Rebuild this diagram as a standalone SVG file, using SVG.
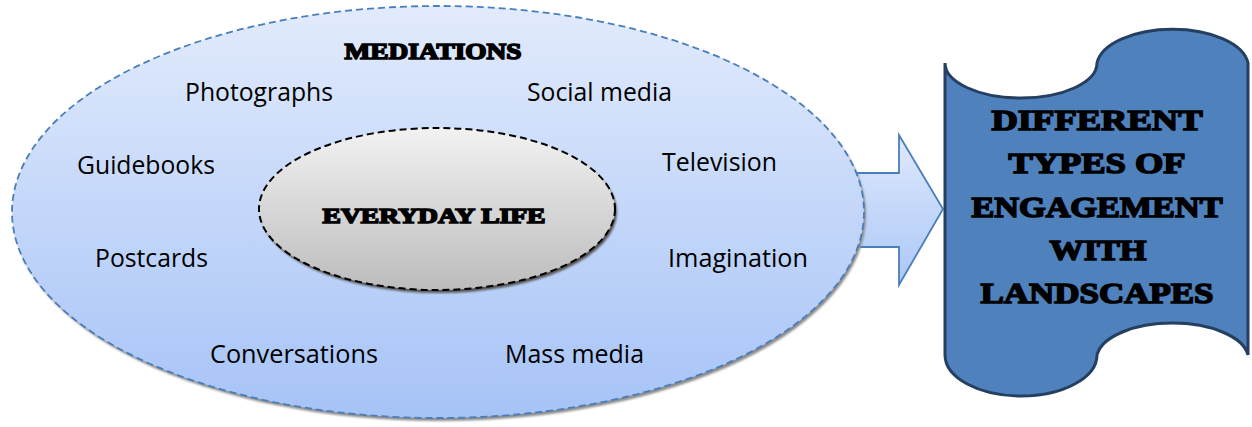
<svg xmlns="http://www.w3.org/2000/svg" width="1252" height="427" viewBox="0 0 1252 427">
<defs>
<linearGradient id="gOuter" x1="0" y1="0" x2="0" y2="1">
<stop offset="0" stop-color="#e2ebfc"/>
<stop offset="1" stop-color="#a6c3f7"/>
</linearGradient>
<linearGradient id="gInner" x1="0" y1="0" x2="0" y2="1">
<stop offset="0" stop-color="#f2f2f2"/>
<stop offset="1" stop-color="#bcbcbc"/>
</linearGradient>
<linearGradient id="gArrow" x1="0" y1="0" x2="0" y2="1">
<stop offset="0" stop-color="#dfe9fc"/>
<stop offset="1" stop-color="#abc7f7"/>
</linearGradient>
<filter id="blur" x="-5%" y="-5%" width="110%" height="110%">
<feGaussianBlur stdDeviation="1.2"/>
</filter>
</defs>
<style>
.lbl{font-family:"Open Sans","Noto Sans",sans-serif;font-size:25px;fill:#000}
.hd{font-family:"Liberation Serif","DejaVu Serif",serif;font-weight:bold;fill:#000;stroke:#000;stroke-width:1.6px;text-anchor:middle}
</style>
<g id="connectors">
<path d="M820 173 L899 173 L899 135 L943 209 L899 285 L899 247 L820 247 Z" fill="url(#gArrow)" stroke="#4a7ebb" stroke-width="1.8"/>
</g>
<g id="mediations">
<ellipse cx="440" cy="215" rx="426" ry="206" fill="#8c8c8c" filter="url(#blur)"/>
<ellipse cx="438" cy="212" rx="426" ry="206" fill="url(#gOuter)" stroke="#4a7ebb" stroke-width="1.8" stroke-dasharray="7,4"/>
<text class="hd" x="433" y="59" font-size="23" textLength="177" lengthAdjust="spacingAndGlyphs">MEDIATIONS</text>
<text class="lbl" x="185" y="101" textLength="148" lengthAdjust="spacingAndGlyphs">Photographs</text>
<text class="lbl" x="527" y="101" textLength="145" lengthAdjust="spacingAndGlyphs">Social media</text>
<text class="lbl" x="77" y="174" textLength="138" lengthAdjust="spacingAndGlyphs">Guidebooks</text>
<text class="lbl" x="662" y="171" textLength="115" lengthAdjust="spacingAndGlyphs">Television</text>
<text class="lbl" x="95" y="267" textLength="113" lengthAdjust="spacingAndGlyphs">Postcards</text>
<text class="lbl" x="668" y="267" textLength="140" lengthAdjust="spacingAndGlyphs">Imagination</text>
<text class="lbl" x="210" y="363" textLength="168" lengthAdjust="spacingAndGlyphs">Conversations</text>
<text class="lbl" x="505" y="363" textLength="139" lengthAdjust="spacingAndGlyphs">Mass media</text>
</g>
<g id="everyday-life">
<ellipse cx="439" cy="212" rx="178" ry="81" fill="#555" filter="url(#blur)"/>
<ellipse cx="437" cy="209" rx="178" ry="81" fill="url(#gInner)" stroke="#000" stroke-width="2" stroke-dasharray="7,4"/>
<text class="hd" x="434" y="223" font-size="22" textLength="223" lengthAdjust="spacingAndGlyphs">EVERYDAY LIFE</text>
</g>
<g id="engagement">
<path d="M945 63 A76 35 0 0 0 1097 63 A76 38 0 0 1 1248 63 L1248 355 A76 36 0 0 0 1097 355 A76 41 0 0 1 945 355 Z" fill="#4f81bd" stroke="#243f60" stroke-width="3"/>
<text class="hd" x="1097" y="130" font-size="30" textLength="211" lengthAdjust="spacingAndGlyphs">DIFFERENT</text>
<text class="hd" x="1097" y="173" font-size="30" textLength="177" lengthAdjust="spacingAndGlyphs">TYPES OF</text>
<text class="hd" x="1097" y="217" font-size="30" textLength="251" lengthAdjust="spacingAndGlyphs">ENGAGEMENT</text>
<text class="hd" x="1098" y="260" font-size="30" textLength="97" lengthAdjust="spacingAndGlyphs">WITH</text>
<text class="hd" x="1097" y="303" font-size="30" textLength="233" lengthAdjust="spacingAndGlyphs">LANDSCAPES</text>
</g>
</svg>
